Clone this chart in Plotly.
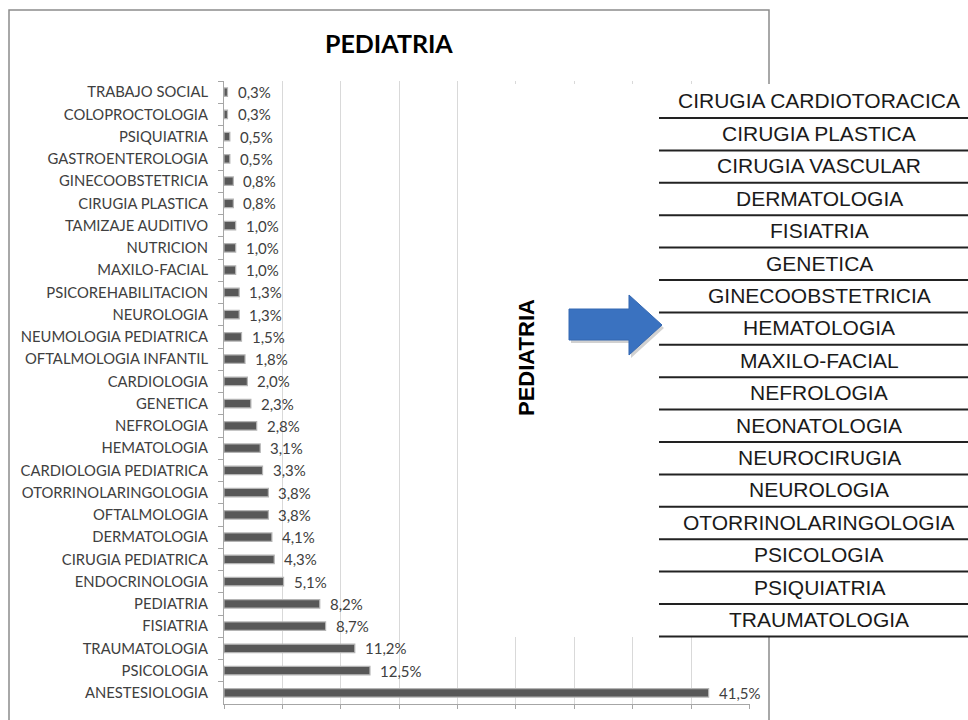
import plotly.graph_objects as go

# --- datos ---
especialidades = [
    "TRABAJO SOCIAL", "COLOPROCTOLOGIA", "PSIQUIATRIA", "GASTROENTEROLOGIA",
    "GINECOOBSTETRICIA", "CIRUGIA PLASTICA", "TAMIZAJE AUDITIVO", "NUTRICION",
    "MAXILO-FACIAL", "PSICOREHABILITACION", "NEUROLOGIA", "NEUMOLOGIA PEDIATRICA",
    "OFTALMOLOGIA INFANTIL", "CARDIOLOGIA", "GENETICA", "NEFROLOGIA",
    "HEMATOLOGIA", "CARDIOLOGIA PEDIATRICA", "OTORRINOLARINGOLOGIA", "OFTALMOLOGIA",
    "DERMATOLOGIA", "CIRUGIA PEDIATRICA", "ENDOCRINOLOGIA", "PEDIATRIA",
    "FISIATRIA", "TRAUMATOLOGIA", "PSICOLOGIA", "ANESTESIOLOGIA",
]
porcentajes = [
    0.3, 0.3, 0.5, 0.5, 0.8, 0.8, 1.0, 1.0, 1.0, 1.3, 1.3, 1.5, 1.8, 2.0,
    2.3, 2.8, 3.1, 3.3, 3.8, 3.8, 4.1, 4.3, 5.1, 8.2, 8.7, 11.2, 12.5, 41.5,
]
tabla_derecha = [
    "CIRUGIA CARDIOTORACICA", "CIRUGIA PLASTICA", "CIRUGIA VASCULAR", "DERMATOLOGIA",
    "FISIATRIA", "GENETICA", "GINECOOBSTETRICIA", "HEMATOLOGIA", "MAXILO-FACIAL",
    "NEFROLOGIA", "NEONATOLOGIA", "NEUROCIRUGIA", "NEUROLOGIA",
    "OTORRINOLARINGOLOGIA", "PSICOLOGIA", "PSIQUIATRIA", "TRAUMATOLOGIA",
]
titulo = "PEDIATRIA"

W, H = 968, 720


def px(x):
    return x / W


def py(y):
    return 1 - y / H


etiquetas = [f"{v:.1f}".replace(".", ",") + "%" for v in porcentajes]

fig = go.Figure()
fig.add_trace(go.Bar(
    y=especialidades, x=porcentajes, orientation="h",
    width=0.38,
    marker=dict(color="#585858", line=dict(color="#b4b4b4", width=1.2)),
    hoverinfo="skip",
))

# etiquetas de datos
for cat, v, t in zip(especialidades, porcentajes, etiquetas):
    fig.add_annotation(x=v, y=cat, xref="x", yref="y", text=t, showarrow=False,
                       xanchor="left", xshift=8,
                       font=dict(family="Lato", size=15, color="#404040"))

shapes = []
# marco del grafico
shapes.append(dict(type="rect", xref="paper", yref="paper",
                   x0=px(9), x1=px(769), y0=py(722), y1=py(10),
                   line=dict(color="#8c8c8c", width=1.5), layer="below"))
# fondo blanco de la imagen pegada
shapes.append(dict(type="rect", xref="paper", yref="paper",
                   x0=px(462), x1=px(968), y0=py(637), y1=py(84),
                   line=dict(width=0), fillcolor="white", layer="above"))
# lineas de la tabla
for k in range(len(tabla_derecha)):
    yl = 118 + 32.4 * k
    shapes.append(dict(type="line", xref="paper", yref="paper",
                       x0=px(659), x1=px(968), y0=py(yl), y1=py(yl),
                       line=dict(color="#222222", width=2), layer="above"))
# flecha azul
flecha = [(569, 309), (629, 309), (629, 295), (662, 325), (629, 355), (629, 340), (569, 340)]
sombra = " ".join(("M" if i == 0 else "L") + f"{px(x + 2):.5f},{py(y + 3):.5f}" for i, (x, y) in enumerate(flecha)) + " Z"
camino = " ".join(("M" if i == 0 else "L") + f"{px(x):.5f},{py(y):.5f}" for i, (x, y) in enumerate(flecha)) + " Z"
shapes.append(dict(type="path", xref="paper", yref="paper", path=sombra,
                   fillcolor="rgba(0,0,0,0.18)", line=dict(width=0), layer="above"))
shapes.append(dict(type="path", xref="paper", yref="paper", path=camino,
                   fillcolor="#3a72c0", line=dict(color="#3468b2", width=1), layer="above"))

fig.update_layout(shapes=shapes)

# textos de la tabla
for k, t in enumerate(tabla_derecha):
    fig.add_annotation(x=px(819), y=py(101 + 32.4 * k), xref="paper", yref="paper",
                       text=t, showarrow=False, xanchor="center", yanchor="middle",
                       font=dict(family="Liberation Sans", size=21, color="#1a1a1a"))

# texto vertical
fig.add_annotation(x=px(526), y=py(358), xref="paper", yref="paper", text=f"<b>{titulo}</b>",
                   showarrow=False, textangle=-90, xanchor="center", yanchor="middle",
                   font=dict(family="Liberation Sans", size=22, color="#000000"))

# titulo
fig.add_annotation(x=px(389), y=py(43), xref="paper", yref="paper", text=f"<b>{titulo}</b>",
                   showarrow=False, xanchor="center", yanchor="middle",
                   font=dict(family="Lato", size=25, color="#000000"))

fig.update_layout(
    width=W, height=H,
    margin=dict(l=0, r=0, t=0, b=0),
    paper_bgcolor="white", plot_bgcolor="white",
    showlegend=False,
    bargap=0.6,
    xaxis=dict(domain=[px(224), px(749.5)], range=[0, 45], dtick=5,
               showgrid=True, gridcolor="#d9d9d9", gridwidth=1.2,
               showline=True, linecolor="#a6a6a6", linewidth=1,
               ticks="outside", ticklen=4, tickcolor="#a6a6a6",
               showticklabels=False, zeroline=False, fixedrange=True),
    yaxis=dict(domain=[py(704), py(81)], categoryorder="array",
               categoryarray=especialidades, autorange="reversed",
               showline=True, linecolor="#a6a6a6", linewidth=1,
               ticks="outside", ticklen=5, tickcolor="#a6a6a6", tickson="boundaries",
               ticklabelstandoff=12,
               tickfont=dict(family="Lato", size=14.8, color="#404040"),
               showgrid=False, zeroline=False, fixedrange=True),
)

fig.write_html("out.html", config={"displayModeBar": False},
               post_script="document.body.style.margin='0';document.body.style.overflow='hidden';")
